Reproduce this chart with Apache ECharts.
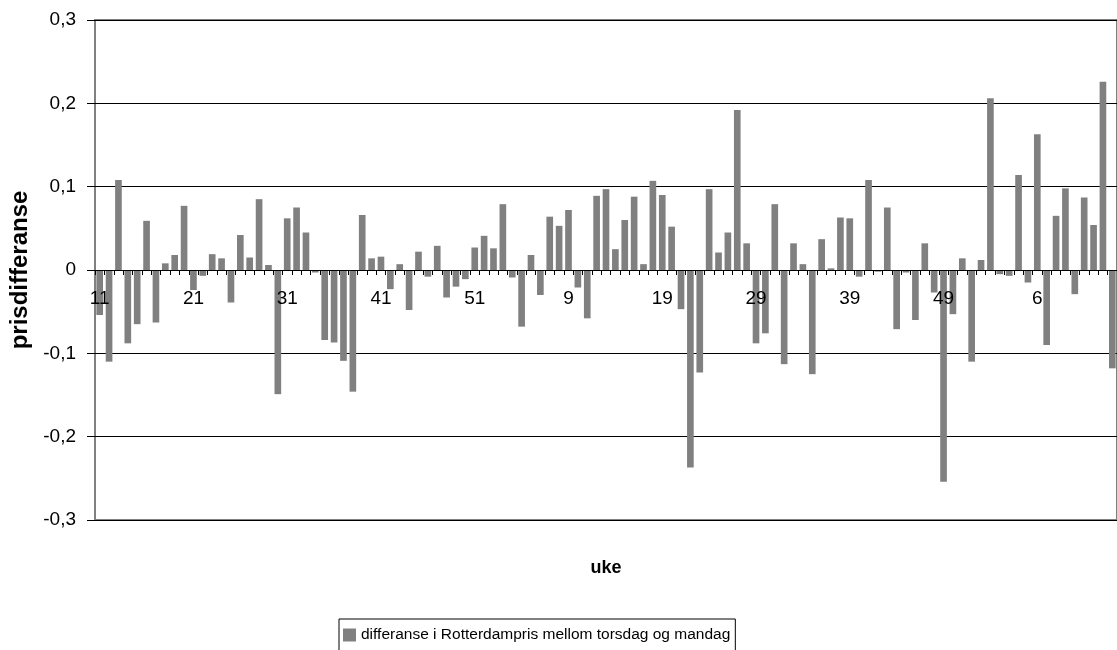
<!DOCTYPE html>
<html>
<head>
<meta charset="utf-8">
<script src="https://cdn.jsdelivr.net/npm/echarts@6/dist/echarts.min.js"></script>
<style>
html,body{margin:0;padding:0;background:#fff;}
#chart{width:1117px;height:650px;}
</style>
</head>
<body>
<div id="chart"></div>
<script>
// Week numbers (categories): year 1 weeks 11-52, year 2 weeks 1-53, year 3 weeks 1-14
var weeks = [
  11,12,13,14,15,16,17,18,19,20,21,22,23,24,25,26,27,28,29,30,31,32,33,34,35,36,37,38,39,40,41,42,43,44,45,46,47,48,49,50,51,52,
  1,2,3,4,5,6,7,8,9,10,11,12,13,14,15,16,17,18,19,20,21,22,23,24,25,26,27,28,29,30,31,32,33,34,35,36,37,38,39,40,41,42,43,44,45,46,47,48,49,50,51,52,53,
  1,2,3,4,5,6,7,8,9,10,11,12,13,14
];

// Price difference (Thursday minus Monday)
var differanse = [
  -0.054,-0.110,0.108,-0.088,-0.065,0.059,-0.063,0.008,0.018,0.077,
  -0.024,-0.007,0.019,0.014,-0.039,0.042,0.015,0.085,0.006,-0.149,
  0.062,0.075,0.045,-0.003,-0.084,-0.087,-0.109,-0.146,0.066,0.014,
  0.016,-0.023,0.007,-0.048,0.022,-0.008,0.029,-0.033,-0.020,-0.011,
  0.027,0.041,0.026,0.079,-0.009,-0.068,0.018,-0.030,0.064,0.053,
  0.072,-0.021,-0.058,0.089,0.097,0.025,0.060,0.088,0.007,0.107,
  0.090,0.052,-0.047,-0.237,-0.123,0.097,0.021,0.045,0.192,0.032,
  -0.088,-0.076,0.079,-0.113,0.032,0.007,-0.125,0.037,0.002,0.063,
  0.062,-0.008,0.108,-0.002,0.075,-0.071,-0.003,-0.060,0.032,-0.027,
  -0.254,-0.053,0.014,-0.110,0.012,0.206,-0.005,-0.007,0.114,-0.015,
  0.163,-0.090,0.065,0.098,-0.029,0.087,0.054,0.226,-0.118
];

var seriesName = 'differanse i Rotterdampris mellom torsdag og mandag';
var yMin = -0.3, yMax = 0.3, yStep = 0.1;
var FONT = '"Liberation Sans", Arial, sans-serif';

var chart = echarts.init(document.getElementById('chart'), null, {renderer: 'canvas'});
chart.setOption({
  animation: false,
  backgroundColor: '#ffffff',
  grid: {
    left: 95, top: 20, right: -8, bottom: 130,
    show: true, borderColor: '#808080', borderWidth: 2, backgroundColor: '#ffffff'
  },
  legend: {
    data: [{name: seriesName, icon: 'rect'}],
    left: 339, top: 619,
    itemWidth: 13, itemHeight: 13,
    borderColor: '#000000', borderWidth: 1,
    padding: [8, 5, 8, 4],
    textStyle: {fontFamily: FONT, fontSize: 15.5, color: '#000'}
  },
  graphic: [{
    type: 'text', x: 606, y: 568,
    style: {text: 'uke', font: 'bold 18px ' + FONT, fill: '#000', textAlign: 'center', textVerticalAlign: 'middle'}
  }],
  xAxis: {
    type: 'category',
    data: weeks,
    boundaryGap: true,
    position: 'bottom',
    offset: -250,
    z: 10,
    axisLine: {show: true, onZero: false, lineStyle: {color: '#000', width: 1}},
    axisTick: {show: true, interval: 0, length: 5, lineStyle: {color: '#000'}},
    axisLabel: {interval: 9, margin: 19, fontFamily: FONT, fontSize: 19, color: '#000'},
    splitLine: {show: false}
  },
  yAxis: {
    type: 'value',
    min: yMin, max: yMax, interval: yStep,
    name: 'prisdifferanse',
    nameLocation: 'middle', nameRotate: 90, nameGap: 61,
    nameTextStyle: {fontFamily: FONT, fontSize: 24, fontWeight: 'bold', color: '#000'},
    axisLine: {show: false},
    axisTick: {show: true, length: 8, lineStyle: {color: '#000'}},
    axisLabel: {
      margin: 19, fontFamily: FONT, fontSize: 19, color: '#000',
      formatter: function (v) {
        var r = Math.round(v * 10) / 10;
        if (r === 0) return '0';
        return r.toFixed(1).replace('.', ',');
      }
    },
    splitLine: {show: true, lineStyle: {color: '#000', width: 1}}
  },
  series: [{
    name: seriesName,
    type: 'bar',
    data: differanse,
    barCategoryGap: '29%',
    itemStyle: {color: '#808080'}
  }]
});
</script>
</body>
</html>
